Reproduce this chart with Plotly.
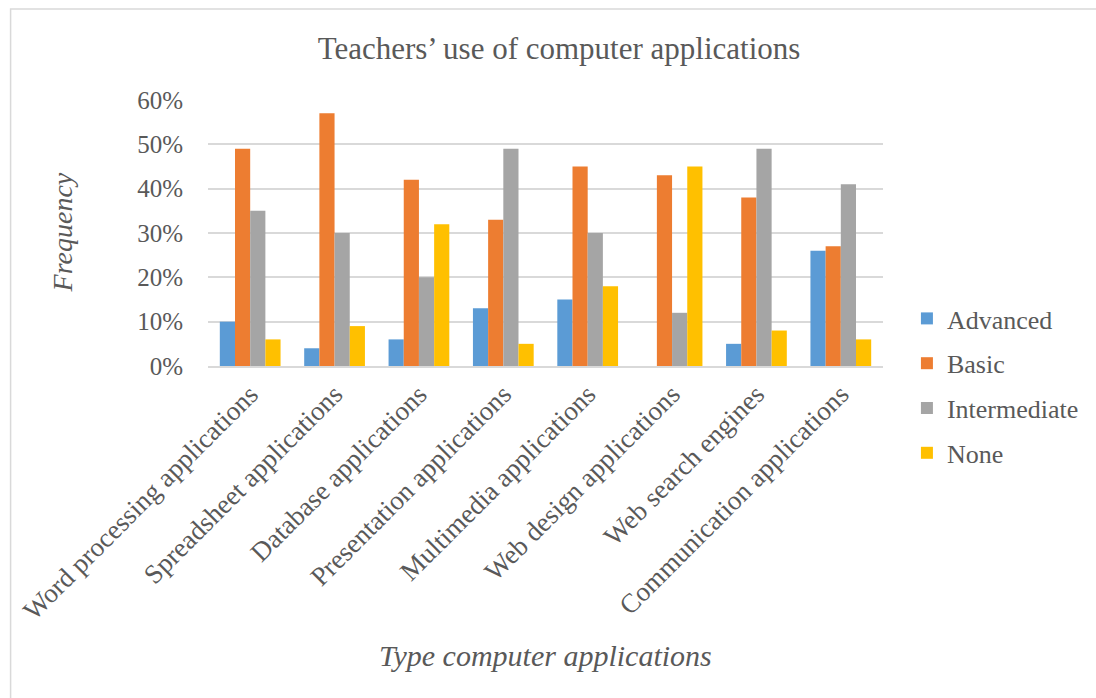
import plotly.graph_objects as go

categories = ["Word processing applications", "Spreadsheet applications", "Database applications",
              "Presentation applications", "Multimedia applications", "Web design applications",
              "Web search engines", "Communication applications"]
advanced = [0.10, 0.04, 0.06, 0.13, 0.15, 0.00, 0.05, 0.26]
basic = [0.49, 0.57, 0.42, 0.33, 0.45, 0.43, 0.38, 0.27]
intermediate = [0.35, 0.30, 0.20, 0.49, 0.30, 0.12, 0.49, 0.41]
none_ = [0.06, 0.09, 0.32, 0.05, 0.18, 0.45, 0.08, 0.06]
series = [("Advanced", advanced, "#5B9BD5"), ("Basic", basic, "#ED7D31"),
          ("Intermediate", intermediate, "#A5A5A5"), ("None", none_, "#FFC000")]
y_ticks = [0, 0.1, 0.2, 0.3, 0.4, 0.5, 0.6]

FONT = "Liberation Serif"
TXT = "#595959"
W, H = 1096, 698
L, R, T, B = 208, 885, 100, 366

def px(x):
    return (x - L) / (R - L)

def py(y):
    return (B - y) / (B - T)

fig = go.Figure()
for name, vals, col in series:
    fig.add_trace(go.Bar(x=categories, y=vals, name=name, marker_color=col,
                         marker_line_width=0, legendgroup=name))

fig.update_layout(
    width=W, height=H,
    margin=dict(l=L, r=W - R, t=T, b=H - B),
    paper_bgcolor="white", plot_bgcolor="white",
    barmode="group", bargap=0.28, bargroupgap=0,
    font=dict(family=FONT, color=TXT),
    title=dict(text="Teachers’ use of computer applications", x=559 / W, xanchor="center",
               y=1 - 48 / H, yanchor="middle", font=dict(size=31, color=TXT, family=FONT)),
    xaxis=dict(tickangle=-45, tickfont=dict(size=27, color=TXT, family=FONT), showgrid=False,
               showline=True, linecolor="#D9D9D9", linewidth=1.5, ticks=""),
    yaxis=dict(range=[0, 0.6], tickvals=y_ticks, tickformat=".0%",
               tickfont=dict(size=25, color=TXT, family=FONT),
               showgrid=True, gridcolor="#D9D9D9", gridwidth=1.5, zeroline=False,
               showline=False, ticks="", ticklabelstandoff=24),
    legend=dict(x=px(909), xanchor="left", y=py(386), yanchor="middle",
                font=dict(size=26, color=TXT, family=FONT), tracegroupgap=8,
                traceorder="grouped", bgcolor="rgba(0,0,0,0)"),
    showlegend=True,
)

fig.add_annotation(text="<i>Type computer applications</i>", xref="paper", yref="paper",
                   x=px(547), y=py(655), xanchor="center", yanchor="middle", showarrow=False,
                   font=dict(size=30, color=TXT, family=FONT))
fig.add_annotation(text="<i>Frequency</i>", xref="paper", yref="paper",
                   x=px(62), y=py(232), xanchor="center", yanchor="middle", showarrow=False,
                   textangle=-90, font=dict(size=28, color=TXT, family=FONT))

fig.add_shape(type="rect", xref="paper", yref="paper", x0=px(10), x1=px(3000), y0=py(3000), y1=py(9),
              line=dict(color="#D9D9D9", width=1.5), fillcolor="rgba(0,0,0,0)", layer="below")

fig.write_html("out.html")
